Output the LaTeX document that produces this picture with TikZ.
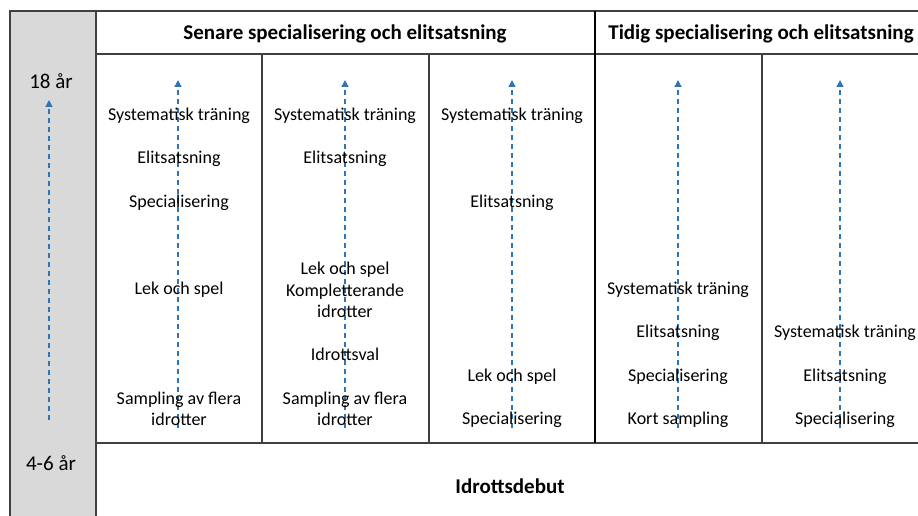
\documentclass[tikz,border=0pt]{standalone}
\usepackage{fontspec}
\setmainfont{Carlito}
\tikzset{
  grid/.style={draw=black!75, line width=1.4pt},
  thick grid/.style={draw=black, line width=2.4pt},
  age/.style={dashed, draw={rgb,255:red,46;green,117;blue,182}, line width=1.4pt, dash pattern=on 5pt off 4pt, -{Triangle[length=7pt,width=7pt]}},
  lbl/.style={inner sep=0pt, align=center, font=\fontsize{18}{21.5}\selectfont},
  agelbl/.style={inner sep=0pt, font=\fontsize{21}{24}\selectfont},
  head/.style={inner sep=0pt, font=\fontsize{21}{24}\selectfont\bfseries}
}
\usetikzlibrary{arrows.meta}
\begin{document}
\begin{tikzpicture}[x=1pt, y=-1pt]
\useasboundingbox (0,0) rectangle (918,516);
% grey age column
\fill [black!15] (10,11) rectangle (96,516);
\draw [grid] (10,516) -- (10,11) -- (918,11);
\draw [grid] (96,11) -- (96,516);
\draw [grid] (96,54) -- (918,54);
\draw [grid] (96,443) -- (918,443);
\draw [grid] (262,54) -- (262,443);
\draw [grid] (429,54) -- (429,443);
\draw [grid] (762,54) -- (762,443);
\draw [thick grid] (595,11) -- (595,443);
% headers
\node [head] (late) at (345,34) {Senare specialisering och elitsatsning};
\node [head] (early) at (761,34) {Tidig specialisering och elitsatsning};
\node [head] (debut) at (510,486) {Idrottsdebut};
\node [agelbl] (old) at (51,81) {18 år};
\node [agelbl] (young) at (51,463) {4-6 år};
% age arrows
\coordinate (a0) at (49,420); \coordinate (b0) at (49,100);
\coordinate (a1) at (178,428); \coordinate (b1) at (178,80);
\coordinate (a2) at (345,428); \coordinate (b2) at (345,80);
\coordinate (a3) at (512,428); \coordinate (b3) at (512,80);
\coordinate (a4) at (678,428); \coordinate (b4) at (678,80);
\coordinate (a5) at (840,428); \coordinate (b5) at (840,80);
\foreach \i in {0,...,5}
  \draw [age] (a\i) -- (b\i);
% column 1
\node [lbl] (c1a) at (179,116) {Systematisk träning};
\node [lbl] (c1b) at (179,159) {Elitsatsning};
\node [lbl] (c1c) at (179,203) {Specialisering};
\node [lbl] (c1d) at (179,290) {Lek och spel};
\node [lbl] (c1e) at (179,409) {Sampling av flera\\idrotter};
% column 2
\node [lbl] (c2a) at (345,116) {Systematisk träning};
\node [lbl] (c2b) at (345,159) {Elitsatsning};
\node [lbl] (c2c) at (345,290) {Lek och spel\\Kompletterande\\idrotter};
\node [lbl] (c2d) at (345,354) {Idrottsval};
\node [lbl] (c2e) at (345,409) {Sampling av flera\\idrotter};
% column 3
\node [lbl] (c3a) at (512,116) {Systematisk träning};
\node [lbl] (c3b) at (512,203) {Elitsatsning};
\node [lbl] (c3c) at (512,377) {Lek och spel};
\node [lbl] (c3d) at (512,420) {Specialisering};
% column 4
\node [lbl] (c4a) at (678,290) {Systematisk träning};
\node [lbl] (c4b) at (678,333) {Elitsatsning};
\node [lbl] (c4c) at (678,377) {Specialisering};
\node [lbl] (c4d) at (678,420) {Kort sampling};
% column 5
\node [lbl] (c5a) at (845,333) {Systematisk träning};
\node [lbl] (c5b) at (845,377) {Elitsatsning};
\node [lbl] (c5c) at (845,420) {Specialisering};
\end{tikzpicture}
\end{document}
